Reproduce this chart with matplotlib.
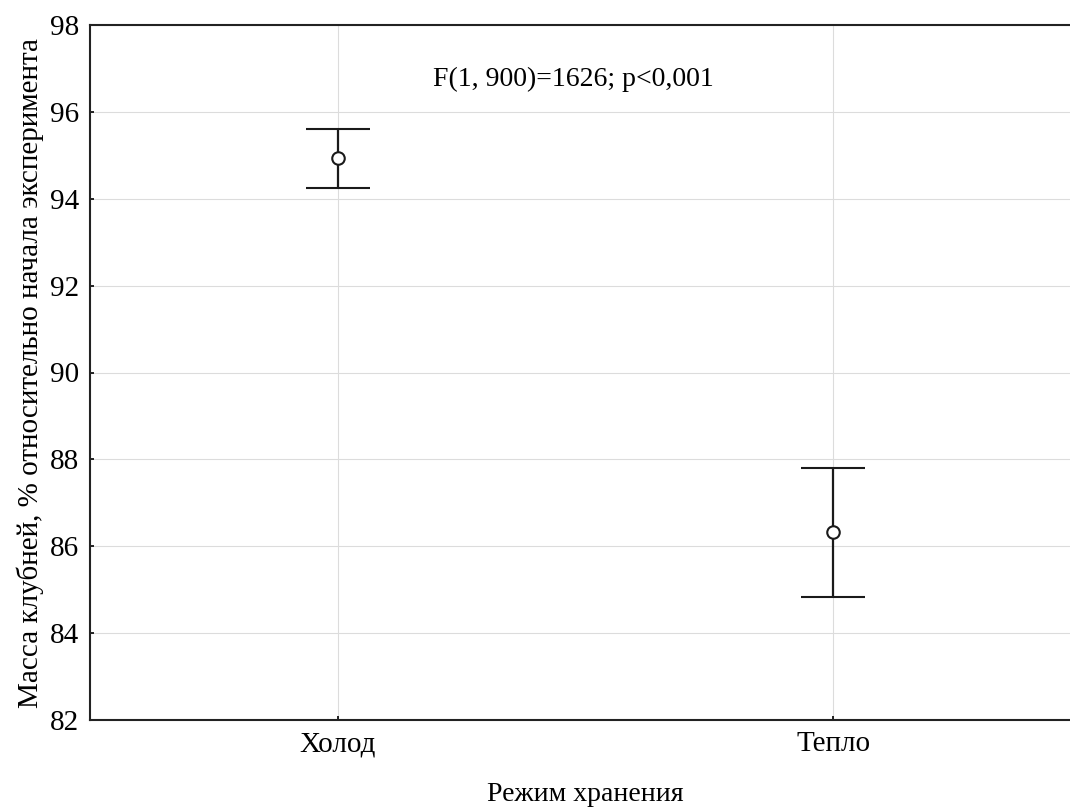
import numpy as np
import matplotlib.pyplot as plt

plt.rcParams['font.family'] = ['Liberation Serif', 'DejaVu Serif']

categories = ["Холод", "Тепло"]
means = [94.93, 86.32]
upper = [95.60, 87.80]
lower = [94.25, 84.84]
y_ticks = [82, 84, 86, 88, 90, 92, 94, 96, 98]

fig = plt.figure(figsize=(10.7, 8.08), dpi=100)
# the right spine falls just outside the picture, as in the source
ax = fig.add_axes([90 / 1070, 1 - 720 / 808, 991 / 1070, 695 / 808])

x = np.arange(len(categories))
m = np.array(means)
err = [m - np.array(lower), np.array(upper) - m]
ax.errorbar(x, m, yerr=err, fmt="o", color="#1a1a1a", ecolor="#1a1a1a",
            elinewidth=1.6, capsize=23, capthick=1.6,
            markersize=9, markerfacecolor="white", markeredgewidth=1.5,
            zorder=3)

ax.set_xlim(-0.5, 1.5)
ax.set_ylim(82, 98)
ax.set_xticks(x)
ax.set_xticklabels(categories)
ax.set_yticks(y_ticks)
ax.grid(True, color="#dcdcdc", linewidth=0.8)
ax.set_axisbelow(True)
ax.tick_params(direction="in", length=3, width=1.2, labelsize=21, pad=8)
for s in ax.spines.values():
    s.set_linewidth(1.5)
    s.set_color("#222222")

ax.set_xlabel("Режим хранения", fontsize=20, labelpad=18)
ax.set_ylabel("Масса клубней, % относительно начала эксперимента",
              fontsize=21, labelpad=4)
ax.text(0.476, 96.75, "F(1, 900)=1626; p<0,001", fontsize=20,
        ha="center", va="center")

plt.savefig("out.png", dpi=100)
